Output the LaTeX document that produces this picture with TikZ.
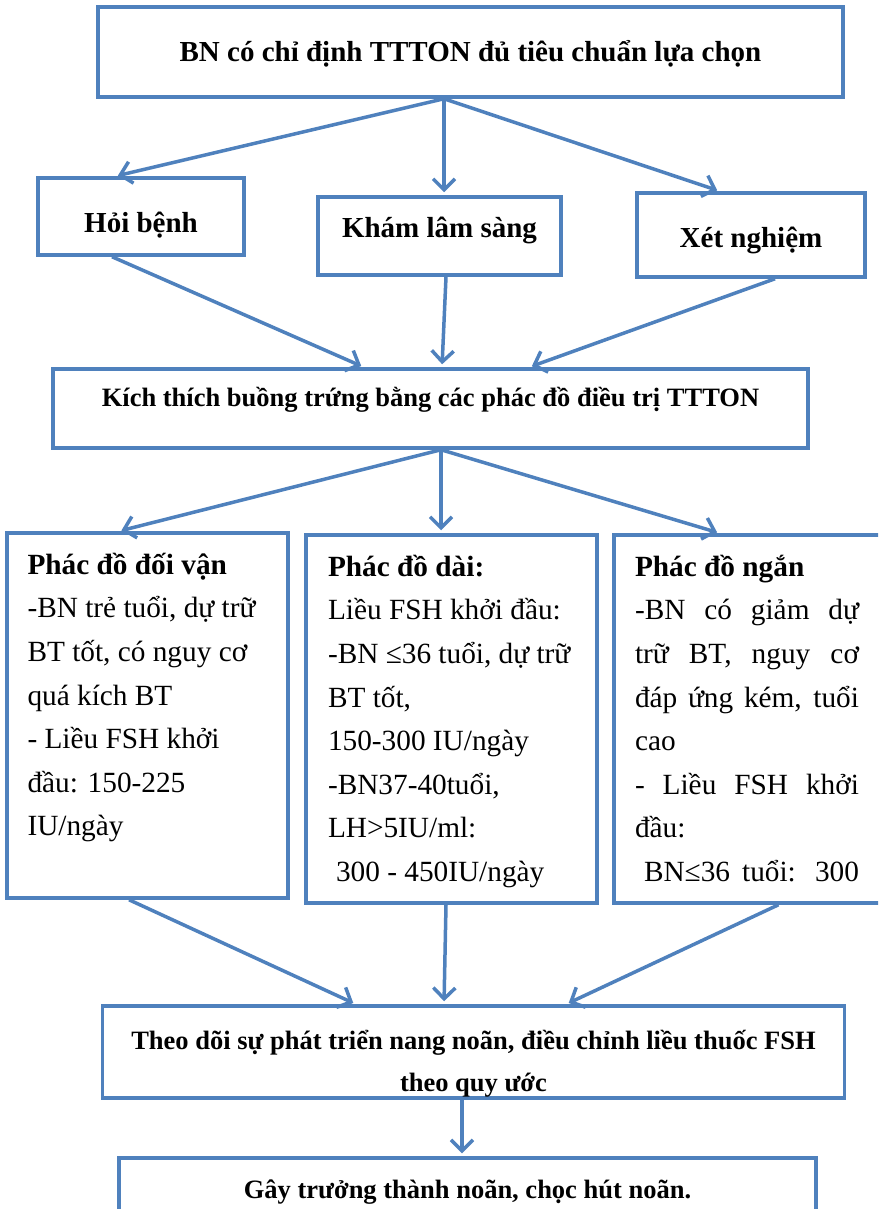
\documentclass[tikz,border=0pt]{standalone}
\usepackage{fontspec}
\setmainfont{Liberation Serif}
\usepackage{tikz}
\usetikzlibrary{arrows.meta}
\definecolor{boxblue}{RGB}{79,129,189}

\begin{document}
\begin{tikzpicture}[x=1pt, y=-1pt,
    box/.style={draw=boxblue, line width=3.5pt, align=center, font=\bfseries\fontsize{29}{35}\selectfont, text height=21.75pt, text depth=2.9pt},
    wide/.style={box, font=\bfseries\fontsize{26.5}{42}\selectfont, text height=19.9pt, text depth=2.65pt},
    tall/.style={draw=boxblue, line width=3.5pt, inner sep=0pt, font=\fontsize{29.3}{43.6}\selectfont},
    arr/.style={draw=boxblue, line width=3.5pt, shorten >=3pt, -{Straight Barb[length=11pt,width=22pt]}}]

    \useasboundingbox (0,0) rectangle (878,1209);
    \clip (0,0) rectangle (878,1209);

    \node[box, minimum width=745, minimum height=90] (top) at (470.5,52) {BN có chỉ định TTTON đủ tiêu chuẩn lựa chọn};
    \node[box, minimum width=206, minimum height=77, text height=35pt] (hoi) at (141,216.5) {Hỏi bệnh};
    \node[box, minimum width=243, minimum height=78, text depth=18.5pt] (kham) at (439.5,236) {Khám lâm sàng};
    \node[box, minimum width=228, minimum height=84, text height=28pt] (xet) at (751,235) {Xét nghiệm};

    \node[wide, minimum width=755, minimum height=79, text depth=23.5pt] (kich) at (430.5,408.5) {Kích thích buồng trứng bằng các phác đồ điều trị TTTON};

    \node[tall, minimum width=281, minimum height=365] (doivan) at (147.5,715.5) {\parbox[c][361pt][t]{240pt}{\raggedright\vspace*{18pt}
        \textbf{Phác đồ đối vận}\\-BN trẻ tuổi, dự trữ\\BT tốt, có nguy cơ\\quá kích BT\\- Liều FSH khởi\\đầu: 150-225\\IU/ngày}};
    \node[tall, minimum width=291, minimum height=368] (dai) at (451.5,719) {\parbox[c][364pt][t]{247pt}{\raggedright\vspace*{18pt}
        \textbf{Phác đồ dài:}\\Liều FSH khởi đầu:\\-BN ≤36 tuổi, dự trữ\\BT tốt,\\150-300 IU/ngày\\-BN37-40tuổi,\\LH>5IU/ml:\\\hspace*{8pt}300 - 450IU/ngày}};
    \node[tall, minimum width=281, minimum height=368] (ngan) at (754.5,719) {\parbox[c][364pt][t]{239pt}{\raggedright\vspace*{18pt}
        \textbf{Phác đồ ngắn}\\
        \makebox[224pt][s]{-BN có giảm dự}\\
        \makebox[224pt][s]{trữ BT, nguy cơ}\\
        \makebox[224pt][s]{đáp ứng kém, tuổi}\\
        cao\\
        \makebox[224pt][s]{- Liều FSH khởi}\\
        đầu:\\
        \makebox[224pt][s]{\hspace{9pt}BN≤36 tuổi: 300}}};

    \node[wide, minimum width=742, minimum height=92, text height=82.6pt] (theo) at (473.5,1052) {Theo dõi sự phát triển nang noãn, điều chỉnh liều thuốc FSH\\theo quy ước};
    \node[wide, minimum width=697, minimum height=92, text depth=31.9pt] (gay) at (467.5,1204) {Gây trưởng thành noãn, chọc hút noãn.};

    \draw[arr] ([xshift=-26.5pt]top.south) -- ([xshift=-26pt]hoi.north);
    \draw[arr] ([xshift=-26.5pt]top.south) -- ([xshift=4.5pt]kham.north);
    \draw[arr] ([xshift=-26.5pt]top.south) -- ([xshift=-31pt]xet.north);
    \draw[arr] ([xshift=-29pt]hoi.south) -- ([xshift=-66.5pt]kich.north);
    \draw[arr] ([xshift=6.5pt]kham.south) -- ([xshift=11.5pt]kich.north);
    \draw[arr] ([xshift=24pt]xet.south) -- ([xshift=98.5pt]kich.north);
    \draw[arr] ([xshift=10.5pt]kich.south) -- ([xshift=-29pt]doivan.north);
    \draw[arr] ([xshift=10.5pt]kich.south) -- ([xshift=-10.5pt]dai.north);
    \draw[arr] ([xshift=10.5pt]kich.south) -- ([xshift=-34.5pt]ngan.north);
    \draw[arr] ([xshift=-18.5pt]doivan.south) -- ([xshift=-117.5pt]theo.north);
    \draw[arr] ([xshift=-5.5pt]dai.south) -- ([xshift=-29.5pt]theo.north);
    \draw[arr] ([xshift=24pt]ngan.south) -- ([xshift=92.5pt]theo.north);
    \draw[arr] ([xshift=-11.5pt]theo.south) -- ([xshift=-5.5pt]gay.north);
\end{tikzpicture}
\end{document}
